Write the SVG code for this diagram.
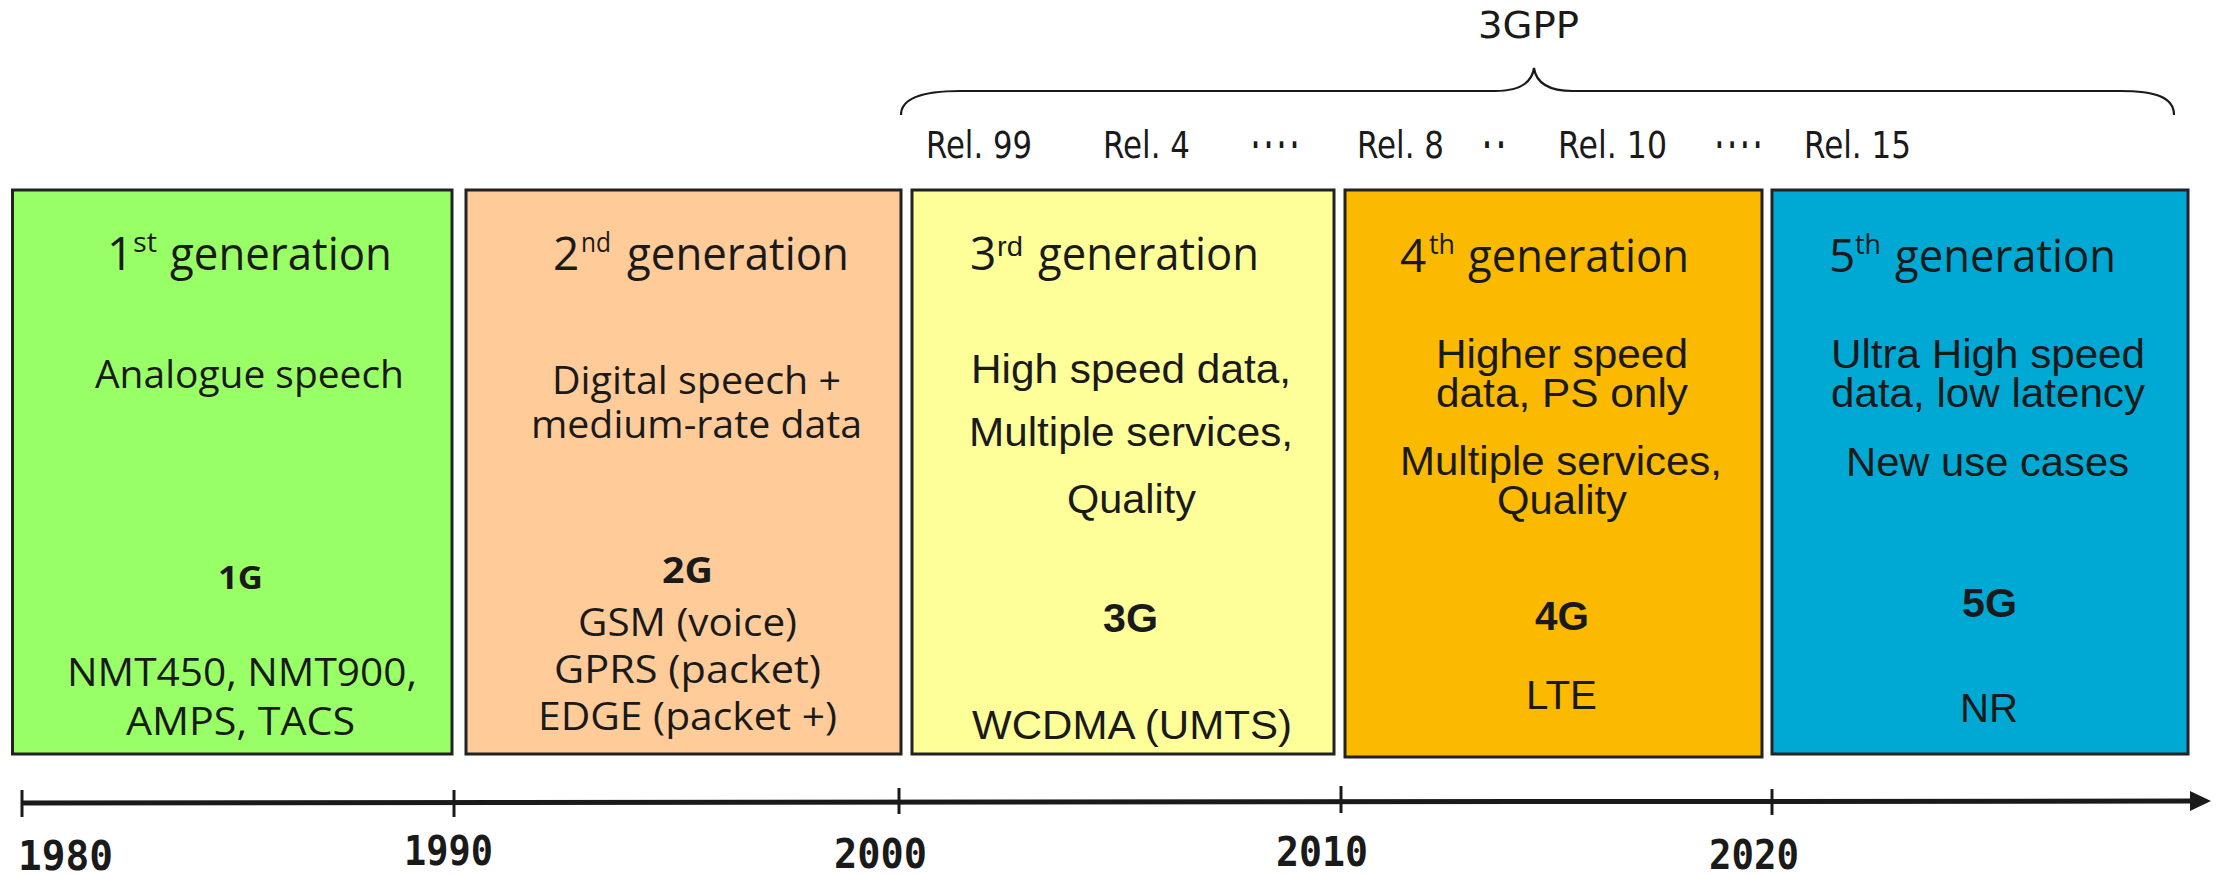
<svg xmlns="http://www.w3.org/2000/svg" width="2236" height="875" viewBox="0 0 2236 875">
<style>
.box{stroke:#222;stroke-width:3}
.h{font-family:'Open Sans','Noto Sans',sans-serif;fill:#1a1a1a}
.a{font-family:'Liberation Sans',Arial,sans-serif;fill:#1a1a1a}
.m{font-family:'DejaVu Sans Mono','Liberation Mono',monospace;fill:#1a1a1a}
.d{font-family:'DejaVu Sans','Liberation Sans',sans-serif;fill:#1a1a1a}
.t{font-size:46px}
.s{font-size:28px}
.b1{font-size:38px}
.b3{font-size:41px}
.bold{font-weight:bold}
.rel{font-size:37px}
.yr{font-size:41px;font-weight:bold}
</style>
<rect width="2236" height="875" fill="#ffffff"/>

<g id="title-3gpp">
<text class="d" x="1478" y="38" font-size="38" textLength="101" lengthAdjust="spacingAndGlyphs">3GPP</text>
<path d="M901,115 C901,97 925,91 960,91 L1495,91 C1520,91 1532,82 1534,68 C1536,82 1548,91 1573,91 L2120,91 C2155,91 2174,97 2174,115" fill="none" stroke="#1a1a1a" stroke-width="2.2"/>
</g>

<g id="releases">
<text class="d rel" x="926" y="158" textLength="106" lengthAdjust="spacingAndGlyphs">Rel. 99</text>
<text class="d rel" x="1103" y="158" textLength="87" lengthAdjust="spacingAndGlyphs">Rel. 4</text>
<text class="m rel bold" x="1249" y="158" textLength="52" lengthAdjust="spacingAndGlyphs">····</text>
<text class="d rel" x="1357" y="158" textLength="87" lengthAdjust="spacingAndGlyphs">Rel. 8</text>
<text class="m rel bold" x="1480" y="158" textLength="28" lengthAdjust="spacingAndGlyphs">··</text>
<text class="d rel" x="1558" y="158" textLength="109" lengthAdjust="spacingAndGlyphs">Rel. 10</text>
<text class="m rel bold" x="1713" y="158" textLength="51" lengthAdjust="spacingAndGlyphs">····</text>
<text class="d rel" x="1804" y="158" textLength="107" lengthAdjust="spacingAndGlyphs">Rel. 15</text>
</g>

<g id="gen1">
<rect class="box" x="12.5" y="190" width="439.5" height="564" fill="#99FF66"/>
<text class="h t" x="107" y="270">1</text>
<text class="h s" x="133" y="252" textLength="24" lengthAdjust="spacingAndGlyphs">st</text>
<text class="h t" x="170" y="270" textLength="222" lengthAdjust="spacingAndGlyphs">generation</text>
<text class="h b1" x="95" y="388" textLength="309" lengthAdjust="spacingAndGlyphs">Analogue speech</text>
<text class="h bold" x="218" y="589" font-size="32" textLength="45" lengthAdjust="spacingAndGlyphs">1G</text>
<text class="h b1" x="67" y="686" textLength="350" lengthAdjust="spacingAndGlyphs">NMT450, NMT900,</text>
<text class="h b1" x="126" y="735" textLength="229" lengthAdjust="spacingAndGlyphs">AMPS, TACS</text>
</g>

<g id="gen2">
<rect class="box" x="466" y="190" width="435" height="564" fill="#FFCC99"/>
<text class="h t" x="553" y="270">2</text>
<text class="h s" x="581" y="252" textLength="30" lengthAdjust="spacingAndGlyphs">nd</text>
<text class="h t" x="627" y="270" textLength="222" lengthAdjust="spacingAndGlyphs">generation</text>
<text class="h b1" x="552" y="394" textLength="289" lengthAdjust="spacingAndGlyphs">Digital speech +</text>
<text class="h b1" x="531" y="438" textLength="331" lengthAdjust="spacingAndGlyphs">medium-rate data</text>
<text class="h bold" x="662" y="583" font-size="36" textLength="51" lengthAdjust="spacingAndGlyphs">2G</text>
<text class="h b1" x="578" y="636" textLength="219" lengthAdjust="spacingAndGlyphs">GSM (voice)</text>
<text class="h b1" x="554" y="683" textLength="267" lengthAdjust="spacingAndGlyphs">GPRS (packet)</text>
<text class="h b1" x="538" y="730" textLength="299" lengthAdjust="spacingAndGlyphs">EDGE (packet +)</text>
</g>

<g id="gen3">
<rect class="box" x="912" y="190" width="422" height="564" fill="#FFFF99"/>
<text class="h t" x="970" y="270">3</text>
<text class="a s" x="997" y="256" textLength="26" lengthAdjust="spacingAndGlyphs">rd</text>
<text class="h t" x="1038" y="270" textLength="221" lengthAdjust="spacingAndGlyphs">generation</text>
<text class="a b3" x="971" y="383" textLength="320" lengthAdjust="spacingAndGlyphs">High speed data,</text>
<text class="a b3" x="969" y="446" textLength="324" lengthAdjust="spacingAndGlyphs">Multiple services,</text>
<text class="a b3" x="1067" y="513" textLength="129" lengthAdjust="spacingAndGlyphs">Quality</text>
<text class="a b3 bold" x="1103" y="632" textLength="55" lengthAdjust="spacingAndGlyphs">3G</text>
<text class="a b3" x="972" y="739" textLength="320" lengthAdjust="spacingAndGlyphs">WCDMA (UMTS)</text>
</g>

<g id="gen4">
<rect class="box" x="1345" y="190" width="417" height="567" fill="#FBBA00"/>
<text class="h t" x="1400" y="272">4</text>
<text class="h s" x="1429" y="254" textLength="26" lengthAdjust="spacingAndGlyphs">th</text>
<text class="h t" x="1468" y="272" textLength="221" lengthAdjust="spacingAndGlyphs">generation</text>
<text class="a b3" x="1436" y="368" textLength="252" lengthAdjust="spacingAndGlyphs">Higher speed</text>
<text class="a b3" x="1436" y="407" textLength="252" lengthAdjust="spacingAndGlyphs">data, PS only</text>
<text class="a b3" x="1400" y="475" textLength="322" lengthAdjust="spacingAndGlyphs">Multiple services,</text>
<text class="a b3" x="1497" y="514" textLength="130" lengthAdjust="spacingAndGlyphs">Quality</text>
<text class="a b3 bold" x="1535" y="630" textLength="54" lengthAdjust="spacingAndGlyphs">4G</text>
<text class="a b3" x="1526" y="709" textLength="71" lengthAdjust="spacingAndGlyphs">LTE</text>
</g>

<g id="gen5">
<rect class="box" x="1772" y="190" width="416" height="564" fill="#00A9D4"/>
<text class="h t" x="1829" y="272">5</text>
<text class="h s" x="1855" y="254" textLength="26" lengthAdjust="spacingAndGlyphs">th</text>
<text class="h t" x="1895" y="272" textLength="221" lengthAdjust="spacingAndGlyphs">generation</text>
<text class="a b3" x="1831" y="368" textLength="314" lengthAdjust="spacingAndGlyphs">Ultra High speed</text>
<text class="a b3" x="1831" y="407" textLength="314" lengthAdjust="spacingAndGlyphs">data, low latency</text>
<text class="a b3" x="1846" y="476" textLength="283" lengthAdjust="spacingAndGlyphs">New use cases</text>
<text class="a b3 bold" x="1962" y="617" textLength="55" lengthAdjust="spacingAndGlyphs">5G</text>
<text class="a b3" x="1960" y="722" textLength="58" lengthAdjust="spacingAndGlyphs">NR</text>
</g>

<g id="connectors">
<line x1="21" y1="803" x2="2196" y2="801" stroke="#1a1a1a" stroke-width="5"/>
<polygon points="2190,791 2211,801 2190,811" fill="#1a1a1a"/>
<g stroke="#1a1a1a" stroke-width="3">
<line x1="22" y1="790" x2="22" y2="817"/>
<line x1="454" y1="790" x2="454" y2="817"/>
<line x1="899" y1="788" x2="899" y2="814"/>
<line x1="1341" y1="786" x2="1341" y2="813"/>
<line x1="1772" y1="789" x2="1772" y2="815"/>
</g>
</g>

<g id="years">
<text class="m yr" x="18" y="870" textLength="95" lengthAdjust="spacingAndGlyphs">1980</text>
<text class="m yr" x="404" y="865" textLength="89" lengthAdjust="spacingAndGlyphs">1990</text>
<text class="m yr" x="834" y="868" textLength="93" lengthAdjust="spacingAndGlyphs">2000</text>
<text class="m yr" x="1276" y="866" textLength="92" lengthAdjust="spacingAndGlyphs">2010</text>
<text class="m yr" x="1709" y="869" textLength="90" lengthAdjust="spacingAndGlyphs">2020</text>
</g>
</svg>
